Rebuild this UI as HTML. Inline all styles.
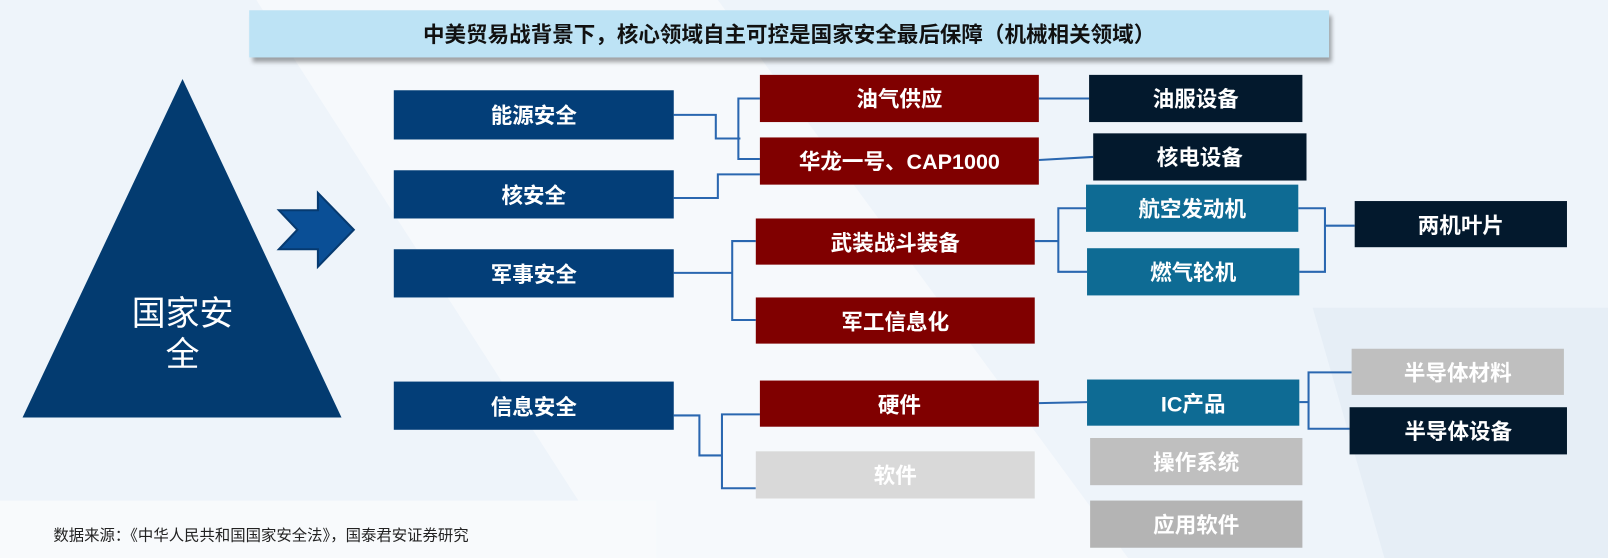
<!DOCTYPE html>
<html><head><meta charset="utf-8"><style>
html,body{margin:0;padding:0;}
body{width:1608px;height:558px;overflow:hidden;background:#eef4fa;position:relative;font-family:"Liberation Sans","Noto Sans CJK SC",sans-serif;}
#w{position:absolute;left:0;top:0;width:1568px;height:544px;transform-origin:0 0;transform:scale(1.02551,1.02574);}
.b{position:absolute;color:#fff;font-weight:bold;font-size:21px;display:flex;align-items:center;justify-content:center;box-sizing:border-box;}
.L{background:#033e78;left:384px;width:273px;}
.R{background:#800000;}
.D{background:#03192d;}
.T{background:#0e6b94;}
.G{background:#bfbfbf;}
</style></head><body>
<div id="w">
<svg width="1568" height="544" style="position:absolute;left:0;top:0">
<polygon points="250,0 700,0 1100,544 600,544" fill="#f6f9fc"/>
<polygon points="1280,300 1568,300 1568,544 1350,544" fill="#e6eef6"/>
<rect x="0" y="488" width="640" height="56" fill="#f8fafc"/>
<polygon points="178,77 22,407 333,407" fill="#033b70"/>
<polygon points="272,205 310,205 310,188 345,224 310,260 310,243 272,243 290,224" fill="#0a4f96" stroke="#063a70" stroke-width="2"/>
<g fill="none" stroke="#2a67b0" stroke-width="2">
<polyline points="657,112 698,112 698,135 722,135"/>
<polyline points="741,96 720,96 720,155 741,155"/>
<polyline points="657,193 700,193 700,170 741,170"/>
<polyline points="1013,96 1062,96"/>
<polyline points="1013,156 1066,153"/>
<polyline points="657,266 714,266"/>
<polyline points="737,235 714,235 714,312 737,312"/>
<polyline points="1009,235 1032,235"/>
<polyline points="1059,203 1032,203 1032,265 1060,265"/>
<polyline points="1266,203 1292,203 1292,265 1267,265"/>
<polyline points="1292,220 1321,220"/>
<polyline points="657,405 682,405 682,444 704,444"/>
<polyline points="741,404 704,404 704,476 737,476"/>
<polyline points="1013,393 1060,392"/>
<polyline points="1267,392 1276,392"/>
<polyline points="1318,363 1276,363 1276,418 1316,418"/>
</g>
</svg>
<div style="position:absolute;left:243px;top:10px;width:1053px;height:46px;background:#bde3f5;box-shadow:3px 5px 4px rgba(0,0,0,0.35);display:flex;align-items:center;justify-content:center;font-weight:bold;font-size:21px;color:#111;">中美贸易战背景下，核心领域自主可控是国家安全最后保障（机械相关领域）</div>
<div style="position:absolute;left:113px;top:286px;width:130px;text-align:center;color:#fff;font-size:33px;line-height:40px;">国家安<br>全</div>
<div class="b L" style="top:88px;height:48px;">能源安全</div>
<div class="b L" style="top:166px;height:47px;">核安全</div>
<div class="b L" style="top:243px;height:47px;">军事安全</div>
<div class="b L" style="top:372px;height:47px;">信息安全</div>
<div class="b R" style="left:741px;top:73px;width:272px;height:46px;">油气供应</div>
<div class="b R" style="left:741px;top:134px;width:272px;height:46px;">华龙一号、CAP1000</div>
<div class="b R" style="left:737px;top:213px;width:272px;height:45px;">武装战斗装备</div>
<div class="b R" style="left:737px;top:290px;width:272px;height:45px;">军工信息化</div>
<div class="b R" style="left:741px;top:371px;width:272px;height:45px;">硬件</div>
<div class="b" style="left:737px;top:440px;width:272px;height:46px;background:#d9d9d9;">软件</div>
<div class="b D" style="left:1062px;top:73px;width:208px;height:46px;">油服设备</div>
<div class="b D" style="left:1066px;top:130px;width:208px;height:46px;">核电设备</div>
<div class="b T" style="left:1059px;top:180px;width:207px;height:46px;">航空发动机</div>
<div class="b T" style="left:1060px;top:242px;width:207px;height:46px;">燃气轮机</div>
<div class="b D" style="left:1321px;top:196px;width:207px;height:45px;">两机叶片</div>
<div class="b T" style="left:1060px;top:370px;width:207px;height:45px;">IC产品</div>
<div class="b G" style="left:1318px;top:340px;width:207px;height:45px;">半导体材料</div>
<div class="b D" style="left:1316px;top:397px;width:212px;height:46px;">半导体设备</div>
<div class="b G" style="left:1063px;top:427px;width:207px;height:46px;">操作系统</div>
<div class="b" style="left:1063px;top:488px;width:207px;height:46px;background:#b4b4b4;">应用软件</div>
<div style="position:absolute;left:52px;top:511px;font-size:15px;color:#222;">数据来源：《中华人民共和国国家安全法》，国泰君安证券研究</div>
</div>
</body></html>
